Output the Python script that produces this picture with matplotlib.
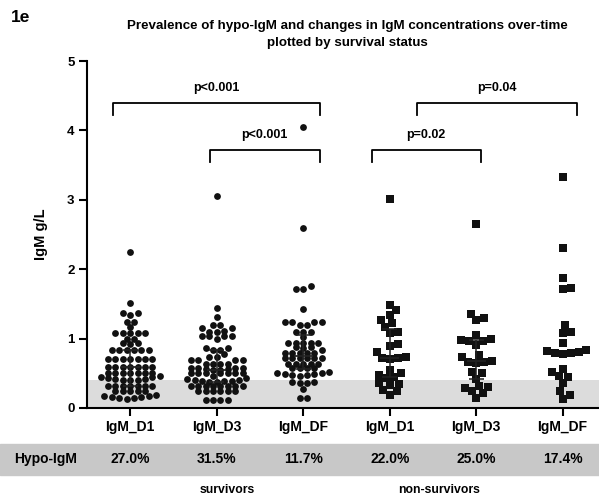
import numpy as np
import matplotlib
matplotlib.use('Agg')
import matplotlib.pyplot as plt
import matplotlib.transforms as mtransforms
from matplotlib.patches import Rectangle

plt.rcParams['font.family'] = ['Liberation Sans', 'DejaVu Sans']
plt.rcParams['font.weight'] = 'bold'

# IgM g/L
surv_d1 = [2.25, 1.52, 1.37, 1.37, 1.34, 1.24, 1.24, 1.17, 1.08, 1.08, 1.08, 1.08, 1.08,
           1.00, 1.00, 0.94, 0.94, 0.92, 0.83, 0.83, 0.83, 0.83, 0.83, 0.83,
           0.71, 0.71, 0.71, 0.71, 0.71, 0.71, 0.71, 0.59, 0.59, 0.59, 0.59, 0.59, 0.59, 0.59,
           0.51, 0.51, 0.51, 0.51, 0.51, 0.51, 0.51,
           0.46, 0.45, 0.44, 0.43, 0.42, 0.42, 0.41, 0.41, 0.40,
           0.32, 0.32, 0.32, 0.32, 0.32, 0.32, 0.32, 0.25, 0.25, 0.25, 0.25, 0.25,
           0.19, 0.18, 0.17, 0.16, 0.16, 0.15, 0.14, 0.13]
surv_d3 = [3.05, 1.44, 1.31, 1.20, 1.20, 1.15, 1.15, 1.11, 1.09, 1.09, 1.04, 1.04, 1.04, 1.04,
           0.99, 0.87, 0.87, 0.83, 0.83, 0.78, 0.73, 0.73, 0.69, 0.69, 0.69, 0.69,
           0.64, 0.64, 0.64, 0.64, 0.57, 0.57, 0.57, 0.57, 0.56, 0.56, 0.55, 0.55,
           0.50, 0.50, 0.50, 0.50, 0.50, 0.50, 0.50, 0.46, 0.43, 0.42, 0.41, 0.40,
           0.39, 0.39, 0.39, 0.38, 0.38, 0.32, 0.32, 0.31, 0.31, 0.31, 0.31, 0.31, 0.31,
           0.24, 0.24, 0.24, 0.24, 0.24, 0.24, 0.11, 0.11, 0.11, 0.11]
surv_df = [4.05, 2.60, 1.76, 1.72, 1.71, 1.43, 1.24, 1.24, 1.24, 1.24, 1.20, 1.20,
           1.10, 1.10, 1.10, 1.03, 0.93, 0.93, 0.93, 0.93, 0.93, 0.88, 0.88, 0.86, 0.84,
           0.79, 0.79, 0.79, 0.79, 0.79, 0.72, 0.72, 0.72, 0.72, 0.72, 0.72,
           0.64, 0.64, 0.64, 0.64, 0.64, 0.57, 0.57, 0.57, 0.57,
           0.52, 0.51, 0.50, 0.49, 0.49, 0.48, 0.47, 0.46,
           0.37, 0.37, 0.36, 0.36, 0.28, 0.15, 0.14]
nons_d1 = [3.01, 1.48, 1.41, 1.34, 1.27, 1.22, 1.17, 1.10, 1.08, 0.92, 0.90, 0.81, 0.74,
           0.72, 0.72, 0.71, 0.55, 0.50, 0.48, 0.45, 0.43, 0.36, 0.35, 0.33, 0.26, 0.24, 0.19]
nons_d3 = [2.65, 1.36, 1.29, 1.27, 1.05, 0.99, 0.98, 0.97, 0.96, 0.91, 0.76, 0.74, 0.68,
           0.67, 0.66, 0.65, 0.52, 0.50, 0.42, 0.31, 0.30, 0.29, 0.24, 0.21, 0.14]
nons_df = [3.33, 2.31, 1.88, 1.73, 1.72, 1.19, 1.09, 1.08, 0.94, 0.84, 0.82, 0.81, 0.79,
           0.79, 0.78, 0.56, 0.52, 0.46, 0.44, 0.36, 0.24, 0.19, 0.13]

groups = [surv_d1, surv_d3, surv_df, nons_d1, nons_d3, nons_df]
tick_labels = ['IgM_D1', 'IgM_D3', 'IgM_DF', 'IgM_D1', 'IgM_D3', 'IgM_DF']
hypo_pct = ['27.0%', '31.5%', '11.7%', '22.0%', '25.0%', '17.4%']
markers = ['o', 'o', 'o', 's', 's', 's']
show_bar = [True, True, True, True, True, False]
hypo_cut = 0.4

# brackets: (x_left, x_right, y, label)
brackets = [(-0.2, 2.19, 4.40, 'p<0.001'),
            (0.92, 2.19, 3.72, 'p<0.001'),
            (2.79, 4.05, 3.72, 'p=0.02'),
            (3.32, 5.16, 4.40, 'p=0.04')]


def row_scatter(vals, xc, h, d, sx):
    # points grouped into rows of similar value, spread sideways from the centre
    v = np.sort(np.asarray(vals, float))
    xs, ys = [], []
    i = 0
    while i < len(v):
        j = i
        while j < len(v) and v[j] - v[i] < h:
            j += 1
        row = v[i:j]
        n = len(row)
        slots = sorted(range(n), key=lambda k: (abs(k - (n - 1) / 2), k))
        for val, k in zip(row, slots):
            xs.append(xc + (k - (n - 1) / 2) * d / sx)
            ys.append(val)
        i = j
    return xs, ys


def swarm(vals, xc, d, sx, sy):
    # plain beeswarm in pixel space
    vals = np.sort(np.asarray(vals, float))
    xs = []
    placed = []
    for v in vals:
        y = v * sy
        cands = [0.0]
        for px, py in placed:
            dy = y - py
            if abs(dy) < d:
                dx = np.sqrt(d * d - dy * dy)
                cands += [px + dx, px - dx]
        cands.sort(key=abs)
        for c in cands:
            if all((c - px) ** 2 + (y - py) ** 2 >= d * d - 1e-6 for px, py in placed):
                break
        placed.append((c, y))
        xs.append(xc + c / sx)
    return xs, list(vals)


fig = plt.figure(figsize=(5.99, 4.99), dpi=100)
ax = fig.add_axes([87 / 599, 91 / 499, 512 / 599, 347 / 499])
ax.set_xlim(-0.5, 5.42)
ax.set_ylim(0, 5)

p0 = ax.transData.transform((0, 0))
p1 = ax.transData.transform((1, 1))
sx, sy = p1[0] - p0[0], p1[1] - p0[1]

ax.axhspan(0, hypo_cut, color='#dcdcdc', zorder=0, lw=0)

for i, vals in enumerate(groups):
    if markers[i] == 'o':
        xs, ys = row_scatter(vals, i, 0.065, 7.4, sx)
        ax.scatter(xs, ys, s=24, marker='o', color='#111111', lw=0, zorder=3)
    else:
        xs, ys = swarm(vals, i, 8.0, sx, sy)
        ax.scatter(xs, ys, s=26, marker='s', color='#111111', lw=0, zorder=3)
    if show_bar[i]:
        q1, med, q3 = np.percentile(vals, [25, 50, 75])
        ax.vlines(i, q1, q3, color='#222222', lw=1.1, zorder=4)
        ax.hlines([q1, q3], i - 0.085, i + 0.085, color='#222222', lw=1.1, zorder=4)
        ax.hlines(med, i - 0.11, i + 0.11, color='#222222', lw=1.3, zorder=4)

for xl, xr, y, lab in brackets:
    ax.plot([xl, xl, xr, xr], [y - 0.18, y, y, y - 0.18], color='black', lw=1.3,
            clip_on=False, zorder=5)
    ax.text((xl + xr) / 2, y + 0.13, lab, ha='center', va='bottom', fontsize=9,
            fontweight='bold')

for side in ['top', 'right']:
    ax.spines[side].set_visible(False)
for side in ['left', 'bottom']:
    ax.spines[side].set_linewidth(1.5)
ax.set_xticks(range(6))
ax.set_xticklabels(tick_labels, fontsize=10, fontweight='bold')
ax.set_yticks(range(6))
ax.set_yticklabels([str(v) for v in range(6)], fontsize=9.5, fontweight='bold')
ax.tick_params(axis='both', direction='out', length=6, width=1.5, pad=3)
ax.set_ylabel('IgM g/L', fontsize=10.5, fontweight='bold', labelpad=14)

# table row under the axis
fig.add_artist(Rectangle((0, 24 / 499), 1, 31 / 499, transform=fig.transFigure,
                         color='#c8c8c8', zorder=-1))
trans = mtransforms.blended_transform_factory(ax.transData, fig.transFigure)
fig.text(46 / 599, 40 / 499, 'Hypo-IgM', ha='center', va='center', fontsize=10,
         fontweight='bold')
for i, pct in enumerate(hypo_pct):
    ax.text(i, 40 / 499, pct, transform=trans, ha='center', va='center', fontsize=10,
            fontweight='bold', clip_on=False)
ax.text(1.12, 9 / 499, 'survivors', transform=trans, ha='center', va='center',
        fontsize=8.8, fontweight='bold', clip_on=False)
ax.text(3.57, 9 / 499, 'non-survivors', transform=trans, ha='center', va='center',
        fontsize=8.8, fontweight='bold', clip_on=False)

fig.text(347 / 599, 1 - 26 / 499, 'Prevalence of hypo-IgM and changes in IgM concentrations over-time',
         ha='center', va='center', fontsize=9.6, fontweight='bold')
fig.text(347 / 599, 1 - 43 / 499, 'plotted by survival status', ha='center', va='center',
         fontsize=9.6, fontweight='bold')
fig.text(11 / 599, 1 - 17 / 499, '1e', ha='left', va='center', fontsize=12.5, fontweight='bold')

fig.savefig('out.png', dpi=100)
